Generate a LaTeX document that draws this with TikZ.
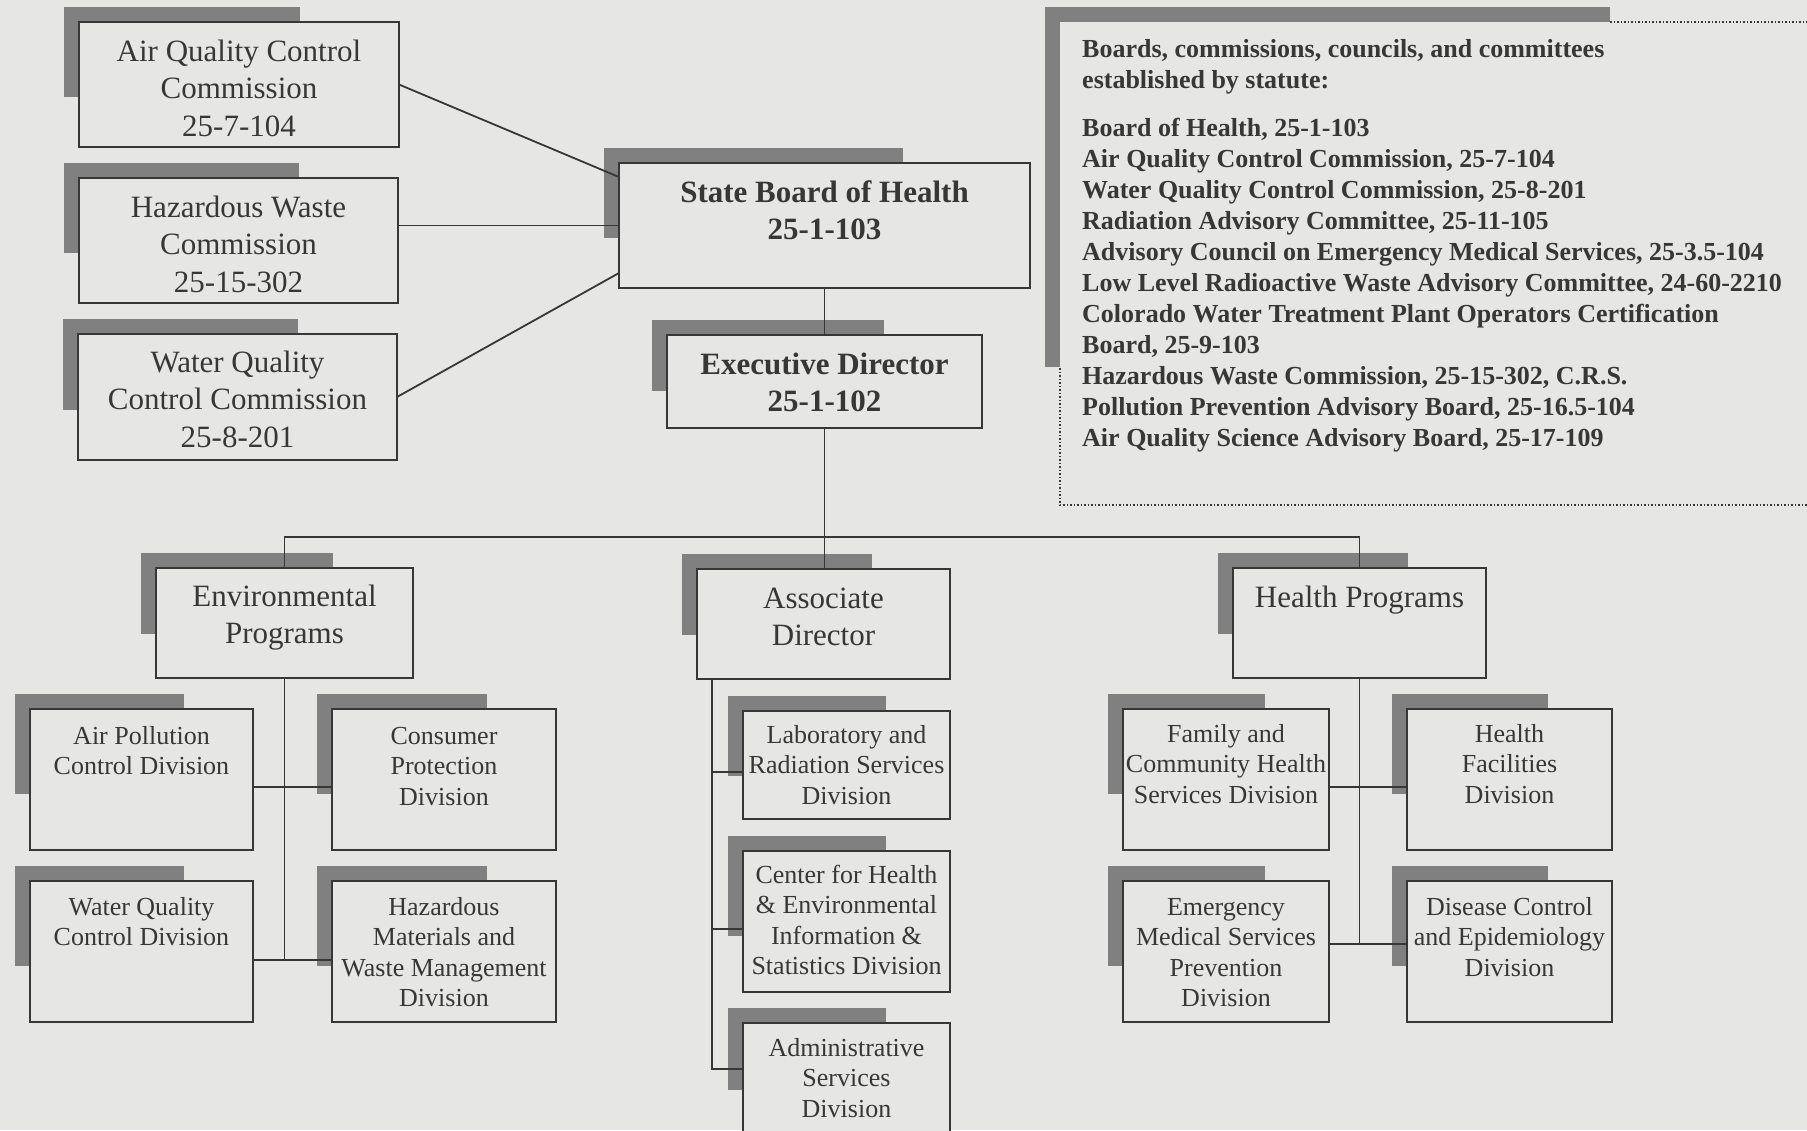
\documentclass[tikz,border=0pt]{standalone}
\usepackage{fontspec}
\setmainfont{Liberation Serif}
\usetikzlibrary{calc}
\definecolor{paper}{RGB}{230,230,228}
\definecolor{ink}{RGB}{55,55,55}
\definecolor{shadecol}{RGB}{128,128,128}
\tikzset{
  orgbox/.style={draw=ink, line width=1.8pt, fill=paper, inner sep=0pt, outer sep=0pt, text=ink},
  shadowfill/.style={fill=shadecol},
  link/.style={draw=ink, line width=1.8pt},
  dotline/.style={draw=ink, line width=1.5pt, dash pattern=on 1.5pt off 2pt},
}
\newcommand\fBig{\fontsize{31}{37.5}\selectfont}
\newcommand\fBold{\fontsize{31}{37}\selectfont\bfseries}
\newcommand\fDiv{\fontsize{26}{30.5}\selectfont}
\newcommand\fPanel{\fontsize{26}{31}\selectfont\bfseries}
% name, left, top, width, height, font, first-baseline offset, text
\newcommand\mkbox[8]{%
  \pgfmathsetmacro\sxr{#2+0.69*#4}%
  \pgfmathsetmacro\syb{#3+0.6*#5}%
  \fill[shadowfill] (#2-15,#3-15) rectangle (\sxr,\syb);
  \node[orgbox, anchor=north west] (#1) at (#2,#3)
    {\parbox[c][#5pt][t]{#4pt}{#6\centering\rule{0pt}{#7pt}#8}};
}
\begin{document}
\begin{tikzpicture}[x=1pt,y=-1pt]
\path[use as bounding box, clip] (0,0) rectangle (1807,1130);
\fill[paper] (0,0) rectangle (1807,1130);

% statutory panel
\fill[shadowfill] (1045,7) rectangle (1610,367);
\node[fill=paper, inner sep=0pt, outer sep=0pt, minimum width=747pt, minimum height=483pt, anchor=north west] (panel) at (1060,22) {};
\draw[dotline] ($(panel.north west)+(550,0)$) -- (panel.north east);
\draw[dotline] ($(panel.north west)+(0,346)$) -- (panel.south west) -- (panel.south east);
\node[anchor=north west, inner sep=0pt, text=ink] (ptext) at ($(panel.north west)+(22,0)$)
  {\parbox[t]{725pt}{\fPanel\raggedright\rule{0pt}{35pt}Boards, commissions, councils, and committees\\
  established by statute:\\[17pt]
  Board of Health, 25-1-103\\
  Air Quality Control Commission, 25-7-104\\
  Water Quality Control Commission, 25-8-201\\
  Radiation Advisory Committee, 25-11-105\\
  Advisory Council on Emergency Medical Services, 25-3.5-104\\
  Low Level Radioactive Waste Advisory Committee, 24-60-2210\\
  Colorado Water Treatment Plant Operators Certification\\
  Board, 25-9-103\\
  Hazardous Waste Commission, 25-15-302, C.R.S.\\
  Pollution Prevention Advisory Board, 25-16.5-104\\
  Air Quality Science Advisory Board, 25-17-109}};

% commissions
\mkbox{aq}{79}{22}{320}{125}{\fBig}{39}{Air Quality Control\\Commission\\25-7-104}
\mkbox{hw}{79}{178}{319}{125}{\fBig}{39}{Hazardous Waste\\Commission\\25-15-302}
\mkbox{wq}{78}{334}{319}{126}{\fBig}{38}{Water Quality\\Control Commission\\25-8-201}
% board and director
\mkbox{sbh}{619}{163}{411}{125}{\fBold}{39}{State Board of Health\\25-1-103}
\mkbox{ed}{667}{335}{315}{93}{\fBold}{39}{Executive Director\\25-1-102}
% programs
\mkbox{env}{156}{568}{257}{110}{\fBig}{38}{Environmental\\Programs}
\mkbox{assoc}{697}{569}{253}{110}{\fBig}{39}{Associate\\Director}
\mkbox{hp}{1233}{568}{253}{110}{\fBig}{39}{Health Programs}
% environmental divisions
\mkbox{ap}{30}{709}{223}{141}{\fDiv}{35}{Air Pollution\\Control Division}
\mkbox{cp}{332}{709}{224}{141}{\fDiv}{35}{Consumer\\Protection\\Division}
\mkbox{wqd}{30}{881}{223}{141}{\fDiv}{34}{Water Quality\\Control Division}
\mkbox{hm}{332}{881}{224}{141}{\fDiv}{34}{Hazardous\\Materials and\\Waste Management\\Division}
% associate divisions
\mkbox{lab}{743}{711}{207}{108}{\fDiv}{32}{Laboratory and\\Radiation Services\\Division}
\mkbox{ctr}{743}{851}{207}{141}{\fDiv}{32}{Center for Health\\\& Environmental\\Information \&\\Statistics Division}
\mkbox{adm}{743}{1023}{207}{112}{\fDiv}{33}{Administrative\\Services\\Division}
% health divisions
\mkbox{fam}{1123}{709}{206}{141}{\fDiv}{33}{Family and\\Community Health\\Services Division}
\mkbox{hf}{1407}{709}{205}{141}{\fDiv}{33}{Health\\Facilities\\Division}
\mkbox{ems}{1123}{881}{206}{141}{\fDiv}{34}{Emergency\\Medical Services\\Prevention\\Division}
\mkbox{dc}{1407}{881}{205}{141}{\fDiv}{34}{Disease Control\\and Epidemiology\\Division}

% connectors
\draw[link] (aq.east) -- ($(sbh.north west)+(0,14)$);
\draw[link] (hw.east |- sbh.west) -- (sbh.west);
\draw[link] (wq.east) -- ($(sbh.south west)+(0,-15)$);
\draw[link] (ed.north |- sbh.south) -- (ed.north);
\draw[link] (ed.south) -- (ed.south |- assoc.north);
\coordinate (barL) at ($(env.north)+(0,-31)$);
\draw[link] (env.north) -- (barL) -- (barL -| hp.north) -- (hp.north);

\coordinate (envA) at ($(ap.north east)+(0,78)$);
\coordinate (envB) at ($(wqd.north east)+(0,79)$);
\draw[link] (env.south) -- (env.south |- envB);
\draw[link] (envA) -- (envA -| cp.west);
\draw[link] (envB) -- (envB -| hm.west);

\coordinate (hA) at ($(fam.north east)+(0,78)$);
\coordinate (hB) at ($(ems.north east)+(0,63)$);
\draw[link] (hp.south) -- (hp.south |- hB);
\draw[link] (hA) -- (hA -| hf.west);
\draw[link] (hB) -- (hB -| dc.west);

\coordinate (aT) at ($(assoc.south west)+(15,0)$);
\coordinate (aL) at ($(lab.north west)+(0,61)$);
\coordinate (aC) at ($(ctr.north west)+(0,78)$);
\coordinate (aA) at ($(adm.north west)+(0,46)$);
\draw[link] (aT) |- (aA);
\draw[link] (aL -| aT) -- (aL);
\draw[link] (aC -| aT) -- (aC);
\end{tikzpicture}
\end{document}
